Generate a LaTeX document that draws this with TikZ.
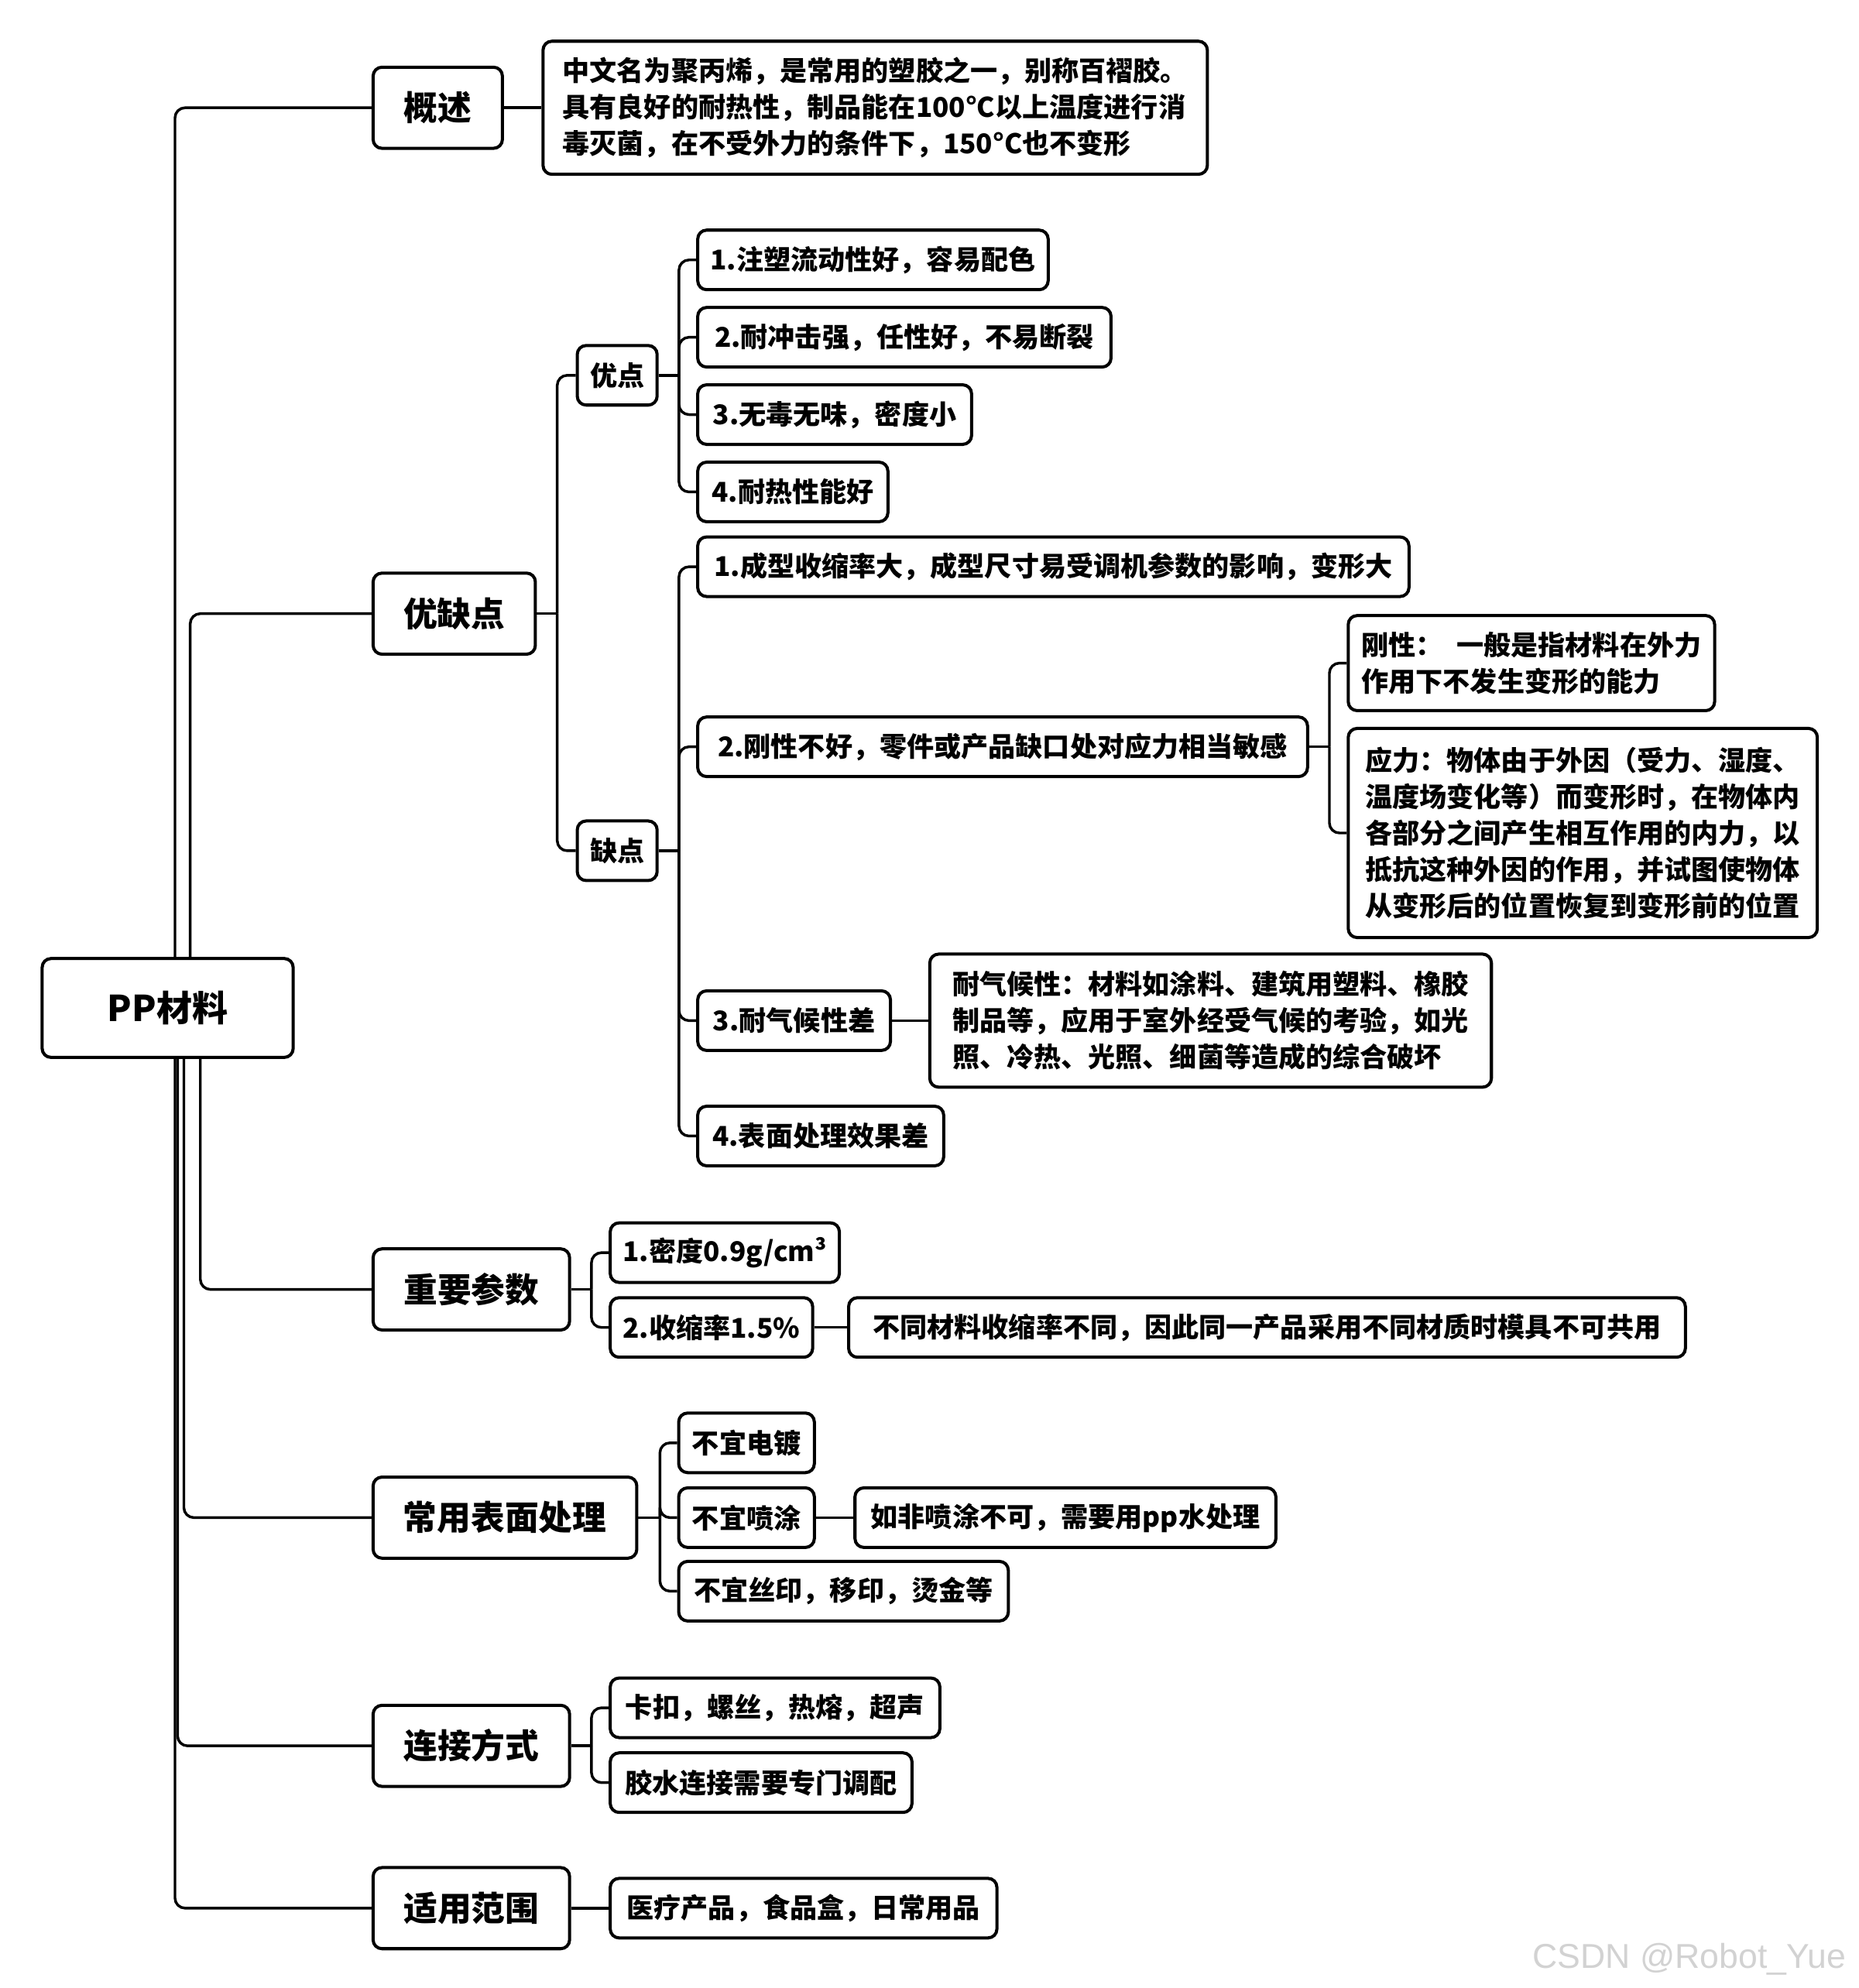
\documentclass[tikz,border=0pt]{standalone}
\usepackage{fontspec}
\setmainfont{Noto Sans CJK SC}
\newfontfamily\markfont{Liberation Sans}

\tikzset{
  box/.style={draw, line width=1.4pt, rounded corners=4pt, fill=white, anchor=west,
    font=\bfseries\fontsize{12.2}{16.4}\selectfont, inner xsep=0.2cm, inner ysep=0.1cm, minimum height=0.94cm},
  topic/.style={box, font=\bfseries\fontsize{15.2}{18}\selectfont, minimum height=1.28cm},
  note/.style={box, align=left},
  link/.style={line width=1.2pt, rounded corners=4.5pt},
}

\begin{document}
\begin{tikzpicture}[x=0.02cm, y=-0.02cm]
    \useasboundingbox (0,0) rectangle (1466,1568);
    % root and main topics
    \node[box, font=\bfseries\fontsize{16}{20}\selectfont, minimum width=3.96cm, minimum height=1.56cm] (pp) at (32,795) {PP材料};
    \node[topic, minimum width=2.04cm] (gs) at (293,85) {概述};
    \node[topic, minimum width=2.56cm] (yqd) at (293,484) {优缺点};
    \node[topic, minimum width=3.10cm] (cs) at (293,1017) {重要参数};
    \node[topic, minimum width=4.16cm] (bm) at (293,1197) {常用表面处理};
    \node[topic, minimum width=3.10cm] (lj) at (293,1377) {连接方式};
    \node[topic, minimum width=3.10cm] (fw) at (293,1505) {适用范围};
    \draw[link] (pp.north west) ++(106,0) |- (gs.west);
    \draw[link] (pp.north west) ++(118,0) |- (yqd.west);
    \draw[link] (pp.south west) ++(126,0) |- (cs.west);
    \draw[link] (pp.south west) ++(113,0) |- (bm.west);
    \draw[link] (pp.south west) ++(108,0) |- (lj.west);
    \draw[link] (pp.south west) ++(106,0) |- (fw.west);

    % 概述
    \node[note, minimum width=10.48cm, minimum height=2.10cm] (gsd) at (427,85) {中文名为聚丙烯，是常用的塑胶之一，别称百褶胶。\\具有良好的耐热性，制品能在100°C以上温度进行消\\毒灭菌，在不受外力的条件下，150°C也不变形};
    \draw[link] (gs.east) -- (gsd.west);

    % 优缺点
    \node[box, minimum width=1.26cm] (yd) at (454,296) {优点};
    \node[box, minimum width=1.26cm] (qd) at (454,671) {缺点};
    \path (yqd.east) ++(16,0) coordinate (f1);
    \draw[link] (yqd.east) -- (f1);
    \draw[link] (f1) |- (yd.west);
    \draw[link] (f1) |- (qd.west);

    \node[box, minimum width=5.52cm] (y1) at (549,205) {1.注塑流动性好，容易配色};
    \node[box, minimum width=6.52cm] (y2) at (549,266) {2.耐冲击强，任性好，不易断裂};
    \node[box, minimum width=4.32cm] (y3) at (549,327) {3.无毒无味，密度小};
    \node[box, minimum width=3.00cm] (y4) at (549,388) {4.耐热性能好};
    \path (yd.east) ++(16,0) coordinate (f2);
    \draw[link] (yd.east) -- (f2);
    \foreach \n in {y1,y2,y3,y4}
        \draw[link] (f2) |- (\n.west);

    \node[box, minimum width=11.22cm] (q1) at (549,447) {1.成型收缩率大，成型尺寸易受调机参数的影响，变形大};
    \node[box, minimum width=9.62cm] (q2) at (549,589) {2.刚性不好，零件或产品缺口处对应力相当敏感};
    \node[box, minimum width=3.04cm] (q3) at (549,805) {3.耐气候性差};
    \node[box, minimum width=3.88cm] (q4) at (549,896) {4.表面处理效果差};
    \path (qd.east) ++(16,0) coordinate (f3);
    \draw[link] (qd.east) -- (f3);
    \foreach \n in {q1,q2,q3,q4}
        \draw[link] (f3) |- (\n.west);

    \node[note, minimum width=5.78cm, minimum height=1.50cm] (gx) at (1062,523) {刚性：\hspace{0.5em}一般是指材料在外力\\作用下不发生变形的能力};
    \node[note, minimum width=7.40cm, minimum height=3.30cm] (yl) at (1062,657) {应力：物体由于外因（受力、湿度、\\温度场变化等）而变形时，在物体内\\各部分之间产生相互作用的内力，以\\抵抗这种外因的作用，并试图使物体\\从变形后的位置恢复到变形前的位置};
    \path (q2.east) ++(16,0) coordinate (f4);
    \draw[link] (q2.east) -- (f4);
    \draw[link] (f4) |- (gx.west);
    \draw[link] (f4) |- (yl.west);

    \node[note, minimum width=8.86cm, minimum height=2.10cm] (nh) at (732,805) {耐气候性：材料如涂料、建筑用塑料、橡胶\\制品等，应用于室外经受气候的考验，如光\\照、冷热、光照、细菌等造成的综合破坏};
    \draw[link] (q3.east) -- (nh.west);

    % 重要参数
    \node[box, minimum width=3.54cm] (c1) at (480,988) {1.密度0.9g/cm³};
    \node[box, minimum width=3.12cm] (c2) at (480,1047) {2.收缩率1.5\%};
    \node[box, minimum width=13.20cm] (c2n) at (668,1047) {不同材料收缩率不同，因此同一产品采用不同材质时模具不可共用};
    \path (cs.east) ++(16,0) coordinate (f5);
    \draw[link] (cs.east) -- (f5);
    \draw[link] (f5) |- (c1.west);
    \draw[link] (f5) |- (c2.west);
    \draw[link] (c2.east) -- (c2n.west);

    % 常用表面处理
    \node[box, minimum width=2.14cm] (s1) at (534,1138) {不宜电镀};
    \node[box, minimum width=2.14cm] (s2) at (534,1197) {不宜喷涂};
    \node[box, minimum width=5.20cm] (s3) at (534,1255) {不宜丝印，移印，烫金等};
    \node[box, minimum width=6.64cm] (s2n) at (673,1197) {如非喷涂不可，需要用pp水处理};
    \path (bm.east) ++(17,0) coordinate (f6);
    \draw[link] (bm.east) -- (f6);
    \foreach \n in {s1,s2,s3}
        \draw[link] (f6) |- (\n.west);
    \draw[link] (s2.east) -- (s2n.west);

    % 连接方式
    \node[box, minimum width=5.20cm] (j1) at (480,1347) {卡扣，螺丝，热熔，超声};
    \node[box, minimum width=4.76cm] (j2) at (480,1406) {胶水连接需要专门调配};
    \path (lj.east) ++(16,0) coordinate (f7);
    \draw[link] (lj.east) -- (f7);
    \draw[link] (f7) |- (j1.west);
    \draw[link] (f7) |- (j2.west);

    % 适用范围
    \node[box, minimum width=6.10cm] (a1) at (480,1505) {医疗产品，食品盒，日常用品};
    \draw[link] (fw.east) -- (a1.west);

    \node[font=\markfont\fontsize{15.5}{18}\selectfont, text=gray!35, anchor=east] (wm) at (1462,1545) {CSDN @Robot\_Yue};
\end{tikzpicture}
\end{document}
